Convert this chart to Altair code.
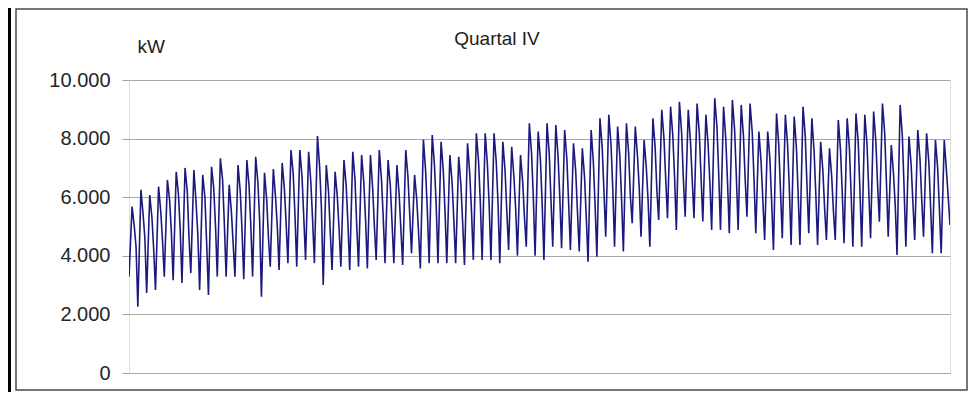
import altair as alt
import pandas as pd

# Daily night minima (thousand kW), one per day plus the final value
lows = [3.29, 2.26, 2.73, 2.83, 3.29, 3.17, 3.07, 3.41, 2.83, 2.66, 3.29, 3.29,
        3.29, 3.20, 3.29, 2.60, 3.63, 3.52, 3.75, 3.63, 3.86, 3.75, 3.00, 3.52,
        3.63, 3.52, 3.63, 3.57, 3.86, 3.75, 3.75, 3.69, 4.09, 3.57, 3.75, 3.75,
        3.75, 3.75, 3.69, 3.86, 3.86, 3.86, 3.75, 4.20, 4.00, 4.31, 4.00,
        3.86, 4.31, 4.26, 4.20, 4.15, 3.80, 3.97, 4.65, 4.31, 4.15, 5.11, 4.65,
        4.31, 5.22, 5.28, 4.88, 5.33, 5.28, 5.17, 4.88, 4.88, 4.77, 4.88,
        5.33, 4.77, 4.54, 4.20, 4.60, 4.37, 4.37, 4.77, 4.37, 4.54, 4.54, 4.43,
        4.31, 4.31, 4.60, 5.16, 4.65, 4.03, 4.31, 4.54, 4.65, 4.09, 4.09, 5.05]

# Daily peaks (thousand kW)
peaks = [5.68, 6.25, 6.07, 6.36, 6.59, 6.87, 7.00, 6.93, 6.76, 7.04, 7.33, 6.42,
         7.10, 7.27, 7.38, 6.83, 6.96, 7.17, 7.61, 7.61, 7.55, 8.09, 7.10, 6.87,
         7.27, 7.55, 7.44, 7.44, 7.61, 7.27, 7.10, 7.61, 6.76, 7.97, 8.12, 7.89,
         7.44, 7.38, 7.84, 8.18, 8.18, 8.18, 7.89, 7.72, 7.44, 8.52, 8.24,
         8.52, 8.46, 8.29, 7.84, 7.67, 8.29, 8.69, 8.81, 8.41, 8.52, 8.41, 7.95,
         8.69, 8.98, 9.09, 9.26, 8.98, 9.20, 8.81, 9.38, 9.09, 9.32, 9.15,
         9.20, 8.24, 8.24, 8.86, 8.81, 8.75, 9.09, 8.69, 7.89, 7.67, 8.63, 8.69,
         8.86, 8.81, 8.92, 9.20, 7.78, 9.15, 8.07, 8.29, 8.18, 7.95, 7.95]

# Afternoon plateau after each peak (thousand kW)
plateaus = [5.0, 5.4, 5.3, 5.5, 5.9, 6.1, 6.2, 5.8, 6.0, 6.3, 6.6, 5.5,
            6.2, 6.4, 6.5, 5.9, 6.0, 6.3, 6.8, 6.7, 6.5, 7.0, 6.2, 6.0,
            6.4, 6.6, 6.5, 6.3, 6.6, 6.4, 6.1, 6.7, 5.9, 6.9, 7.1, 6.9,
            6.5, 6.4, 6.8, 7.2, 7.1, 7.2, 6.9, 6.7, 6.5, 7.5, 7.3,
            7.5, 7.4, 7.3, 6.9, 6.7, 7.2, 7.7, 7.8, 7.4, 7.5, 7.4, 7.0,
            7.7, 8.0, 8.1, 8.2, 7.9, 8.2, 7.8, 8.4, 8.0, 8.3, 8.1,
            8.2, 7.2, 7.3, 7.8, 7.8, 7.7, 8.1, 7.6, 6.9, 6.7, 7.6, 7.7,
            7.9, 7.8, 7.9, 8.2, 6.8, 8.1, 7.1, 7.3, 7.2, 7.0, 6.9]

# Evening shoulder before the night minimum (thousand kW)
evenings = [4.3, 4.6, 4.2, 4.5, 4.8, 4.9, 4.6, 4.7, 4.4, 5.0, 5.1, 4.4,
            4.9, 5.0, 5.2, 4.6, 5.0, 5.1, 5.4, 5.3, 5.2, 5.6, 4.8, 4.9,
            5.1, 5.0, 5.2, 5.0, 5.3, 5.1, 4.9, 5.4, 4.8, 5.5, 5.7, 5.5,
            5.2, 5.1, 5.5, 5.8, 5.7, 5.8, 5.5, 5.6, 5.3, 6.0, 5.8,
            5.9, 6.0, 5.8, 5.5, 5.3, 5.7, 6.2, 6.3, 5.9, 6.0, 6.3, 5.9,
            6.2, 6.6, 6.7, 6.6, 6.6, 6.7, 6.5, 6.8, 6.5, 6.7, 6.6,
            6.6, 5.9, 5.8, 6.2, 6.3, 6.1, 6.4, 6.1, 5.6, 5.5, 6.1, 6.1,
            6.2, 6.2, 6.4, 6.5, 5.7, 6.3, 5.8, 5.9, 5.7, 5.6, 6.0]

y_ticks = [0, 2000, 4000, 6000, 8000, 10000]
title_text = "Quartal IV"

rows = []
for d in range(len(peaks)):
    rows.append({"t": d, "kw": lows[d] * 1000})
    rows.append({"t": d + 0.35, "kw": peaks[d] * 1000})
    rows.append({"t": d + 0.6, "kw": plateaus[d] * 1000})
    rows.append({"t": d + 0.8, "kw": evenings[d] * 1000})
rows.append({"t": len(peaks), "kw": lows[len(peaks)] * 1000})
df = pd.DataFrame(rows)

FONT = "Liberation Sans"
W, H = 821, 293
one = pd.DataFrame({"a": [0]})

frame = alt.Chart(one).mark_rect(filled=False, stroke="#4a4a4a", strokeWidth=1.5, clip=False).encode(
    x=alt.value(-113), x2=alt.value(838), y=alt.value(-71), y2=alt.value(310)
)
bar = alt.Chart(one).mark_rect(color="#000000", clip=False).encode(
    x=alt.value(-121), x2=alt.value(-118), y=alt.value(-72), y2=alt.value(312)
)
title = alt.Chart(one).mark_text(
    text=title_text, font=FONT, fontSize=19, color="#222222",
    align="center", baseline="alphabetic", clip=False
).encode(x=alt.value(368), y=alt.value(-35))

line = alt.Chart(df).mark_line(color="#1a1a7e", strokeWidth=1.6, clip=True).encode(
    x=alt.X("t:Q", axis=None,
            scale=alt.Scale(domain=[0, len(peaks)], nice=False, zero=False)),
    y=alt.Y("kw:Q", scale=alt.Scale(domain=[0, 10000], nice=False),
            axis=alt.Axis(values=y_ticks, title="kW", titleAngle=0, titleX=8, titleY=-28,
                          titleAlign="left", titleBaseline="alphabetic", titleFontSize=19,
                          titleFontWeight="normal", titleColor="#222222", titleFont=FONT,
                          labelFont=FONT, labelFontSize=20, labelColor="#262626",
                          labelPadding=12, tickSize=7, tickColor="#a0a0a0", domain=False,
                          gridColor="#a8a8a8", gridWidth=1,
                          labelExpr="replace(format(datum.value, ','), ',', '.')")),
)

chart = alt.layer(frame, bar, title, line).properties(
    width=W, height=H,
    autosize="none",
    padding={"left": 121, "top": 72, "right": 18, "bottom": 19},
).configure_view(fill="#eff3e8", stroke="#b3b3b3", strokeWidth=2).configure(background="white")

chart.save("out.html", embed_options={"renderer": "svg", "actions": False})
